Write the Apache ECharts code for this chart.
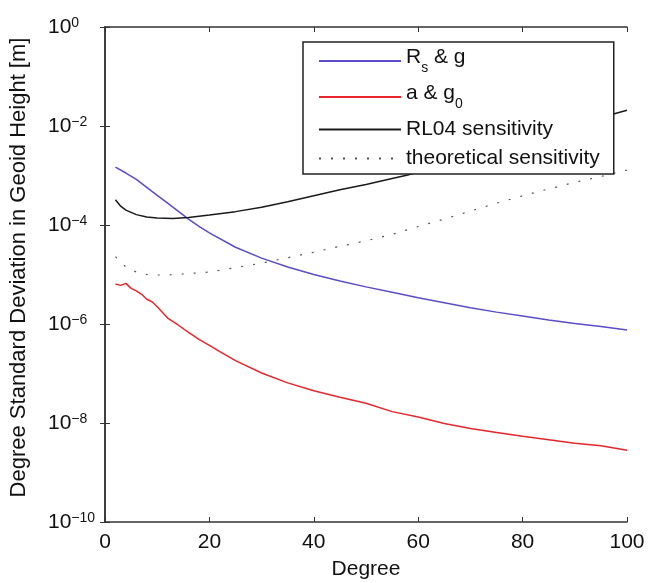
<!DOCTYPE html>
<html><head><meta charset="utf-8">
<script src="https://cdn.jsdelivr.net/npm/echarts@6/dist/echarts.min.js"></script>
<style>html,body{margin:0;padding:0;background:#fff}#c{width:658px;height:583px}</style>
</head><body><div id="c"></div>
<script>
// Values are read as log10 exponents of the degree standard deviation [m]
const degRs = [2,4,6,8,10,12,14,16,18,20,25,30,35,40,45,50,55,60,65,70,75,80,85,90,95,100];
const expRs = [-2.83,-2.95,-3.08,-3.24,-3.40,-3.56,-3.72,-3.88,-4.03,-4.16,-4.45,-4.67,-4.85,-5.00,-5.13,-5.25,-5.36,-5.47,-5.57,-5.67,-5.76,-5.84,-5.92,-5.99,-6.05,-6.12];

const degA = [2,3,4,5,6,7,8,9,10,12,14,16,18,20,22,25,30,35,40,45,50,55,60,65,70,75,80,85,90,95,100];
const expA = [-5.19,-5.22,-5.18,-5.28,-5.33,-5.40,-5.50,-5.55,-5.65,-5.88,-6.02,-6.17,-6.31,-6.43,-6.56,-6.74,-6.99,-7.19,-7.35,-7.48,-7.60,-7.77,-7.88,-8.01,-8.11,-8.19,-8.27,-8.34,-8.41,-8.46,-8.55];

const degRL = [2,3,4,6,8,10,13,16,20,25,30,35,40,45,50,55,58,60,65,70,75,80,85,90,95,100];
const expRL = [-3.49,-3.62,-3.70,-3.79,-3.84,-3.86,-3.87,-3.85,-3.80,-3.73,-3.64,-3.53,-3.41,-3.29,-3.18,-3.06,-2.99,-2.93,-2.77,-2.60,-2.43,-2.27,-2.10,-1.96,-1.83,-1.68];

const degTh = [2,4,6,8,10,12,15,20,25,30,35,40,45,50,55,60,65,70,75,80,85,90,95,100];
const expTh = [-4.64,-4.85,-4.95,-5.00,-5.01,-5.01,-4.99,-4.95,-4.86,-4.77,-4.66,-4.55,-4.43,-4.32,-4.19,-4.03,-3.88,-3.72,-3.56,-3.41,-3.27,-3.14,-3.02,-2.89];

const xTicks = [0,20,40,60,80,100];
const yMinExp = -10, yMaxExp = 0, yStepExp = 2;

const seriesNames = ['Rs & g', 'a & g0', 'RL04 sensitivity', 'theoretical sensitivity'];

function pairs(d, e){ return d.map((x,i)=>[x, Math.pow(10, e[i])]); }

const FONT = "'Liberation Sans', Arial, Helvetica, sans-serif";
const chart = echarts.init(document.getElementById('c'));

const axisLine = {show:true, lineStyle:{color:'#333', width:1.5}};
const yLabelFmt = v => {
  const e = Math.round(Math.log10(v));
  return '{b|10}{e|' + (e < 0 ? '\u2212' + (-e) : e) + '}';
};

chart.setOption({
  backgroundColor:'#fff',
  animation:false,
  textStyle:{fontFamily:FONT},
  grid:{left:105, top:27, right:31, bottom:61, containLabel:false, outerBoundsMode:'none'},
  xAxis:[{
    type:'value', min:xTicks[0], max:xTicks[xTicks.length-1], interval:20,
    name:'Degree', nameLocation:'middle', nameGap:37,
    nameTextStyle:{fontSize:21, color:'#111', fontFamily:FONT},
    axisLine:axisLine, axisTick:{inside:true, length:5, lineStyle:{color:'#333'}},
    axisLabel:{fontSize:21, color:'#111', margin:10, fontFamily:FONT},
    splitLine:{show:false}
  },{
    type:'value', position:'top', min:0, max:100, interval:20,
    axisLine:axisLine, axisTick:{inside:true, length:5, lineStyle:{color:'#333'}},
    axisLabel:{show:false}, splitLine:{show:false}
  }],
  yAxis:[{
    type:'log', logBase:10, min:Math.pow(10,yMinExp), max:Math.pow(10,yMaxExp), interval:yStepExp,
    name:'Degree Standard Deviation in Geoid Height [m]', nameLocation:'middle', nameGap:75,
    nameTextStyle:{fontSize:22, color:'#111', fontFamily:FONT, padding:[0,0,0,14]},
    axisLine:axisLine, axisTick:{inside:true, length:5, lineStyle:{color:'#333'}},
    minorTick:{show:false},
    axisLabel:{
      align:'left', margin:57, formatter:yLabelFmt, color:'#111',
      rich:{
        b:{fontSize:21, lineHeight:21, verticalAlign:'bottom', fontFamily:FONT, color:'#111'},
        e:{fontSize:14, lineHeight:14, verticalAlign:'top', fontFamily:FONT, color:'#111', padding:[0,0,14,0]}
      }
    },
    splitLine:{show:false}
  },{
    type:'log', logBase:10, position:'right', min:Math.pow(10,yMinExp), max:Math.pow(10,yMaxExp), interval:yStepExp,
    axisLine:axisLine, axisTick:{inside:true, length:5, lineStyle:{color:'#333'}},
    axisLabel:{show:false}, splitLine:{show:false}
  }],
  legend:{
    orient:'vertical', left:303, top:42,
    data:seriesNames,
    backgroundColor:'#fff', borderColor:'#222', borderWidth:1.5, borderRadius:0,
    padding:[5,14,5,15], itemGap:8, itemWidth:82, itemHeight:14,
    itemStyle:{opacity:0},
    textStyle:{fontSize:21, color:'#111', fontFamily:FONT,
      rich:{
        n:{fontSize:21, lineHeight:21, verticalAlign:'top', fontFamily:FONT, color:'#111'},
        s:{fontSize:14, verticalAlign:'top', fontFamily:FONT, color:'#111', padding:[14,0,0,0]}
      }},
    formatter: name => {
      if (name === seriesNames[0]) return '{n|R}{s|s}{n| & g}';
      if (name === seriesNames[1]) return '{n|a & g}{s|0}';
      return name;
    }
  },
  series:[
    {name:seriesNames[0], type:'line', symbol:'none', data:pairs(degRs, expRs), lineStyle:{color:'#5a4ccb', width:1.5}, itemStyle:{color:'#5a4ccb'}, z:3},
    {name:seriesNames[1], type:'line', symbol:'none', data:pairs(degA, expA), lineStyle:{color:'#e8262c', width:1.5}, itemStyle:{color:'#e8262c'}, z:3},
    {name:seriesNames[2], type:'line', symbol:'none', data:pairs(degRL, expRL), lineStyle:{color:'#1a1a1a', width:1.5}, itemStyle:{color:'#1a1a1a'}, z:3},
    {name:seriesNames[3], type:'line', symbol:'none', data:pairs(degTh, expTh), lineStyle:{color:'#555', width:1.2, type:[2,10]}, itemStyle:{color:'#555'}, z:3}
  ]
});
</script>
</body></html>
